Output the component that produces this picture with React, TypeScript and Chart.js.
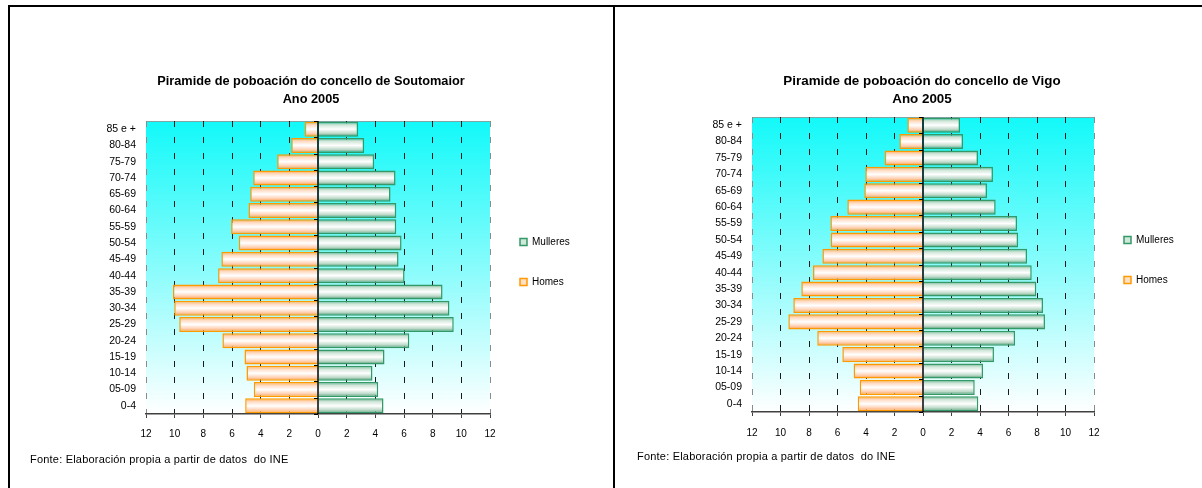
import React, { useEffect, useRef } from 'react';
import { Chart, registerables } from 'chart.js';

Chart.register(...registerables);

// ---------- data ----------
const ageGroups: string[] = [
  '85 e +', '80-84', '75-79', '70-74', '65-69', '60-64', '55-59', '50-54', '45-49',
  '40-44', '35-39', '30-34', '25-29', '20-24', '15-19', '10-14', '05-09', '0-4',
];

const seriesNames: string[] = ['Mulleres', 'Homes'];

const soutomaiorMulleres: number[] = [2.80, 3.22, 3.92, 5.41, 5.06, 5.46, 5.46, 5.83, 5.62, 6.04, 8.69, 9.17, 9.47, 6.37, 4.64, 3.80, 4.20, 4.57];
const soutomaiorHomes: number[] = [0.93, 1.87, 2.85, 4.52, 4.73, 4.85, 6.06, 5.53, 6.74, 6.97, 10.12, 10.03, 9.68, 6.67, 5.13, 4.99, 4.48, 5.08];

const vigoMulleres: number[] = [2.60, 2.81, 3.86, 4.91, 4.49, 5.10, 6.60, 6.67, 7.30, 7.63, 7.95, 8.42, 8.56, 6.46, 4.98, 4.21, 3.63, 3.88];
const vigoHomes: number[] = [1.10, 1.66, 2.69, 4.05, 4.12, 5.31, 6.50, 6.48, 7.06, 7.72, 8.54, 9.10, 9.45, 7.42, 5.66, 4.87, 4.44, 4.58];

const axisMax = 12;
const axisStep = 2;

const titleSoutomaior = 'Piramide de poboación do concello de Soutomaior';
const titleVigo = 'Piramide de poboación do concello de Vigo';
const subtitleYear = 'Ano 2005';
const sourceNote = 'Fonte: Elaboración propia a partir de datos  do INE';

// ---------- styles ----------
const FONT = '"Liberation Sans", Arial, sans-serif';
const BAR_PCT = 0.92;
const GREEN_STOPS: [number, string][] = [[0, '#5FA882'], [0.22, '#D0E6D9'], [0.5, '#FFFFFF'], [0.78, '#BCD9C8'], [1, '#388C62']];
const ORANGE_STOPS: [number, string][] = [[0, '#FFA233'], [0.22, '#FFDAC2'], [0.5, '#FFFFFF'], [0.78, '#FFD0B3'], [1, '#FF9830']];
const LEGEND_W = 80;
const LEGEND_PAD = 30;

type Area = { left: number; right: number; top: number; bottom: number };

const decorPlugin = {
  id: 'pyramidDecor',
  beforeDraw(chart: any) {
    const { ctx, chartArea: a } = chart;
    const g = ctx.createLinearGradient(0, a.top, 0, a.bottom);
    g.addColorStop(0, '#12F9F9');
    g.addColorStop(1, '#FFFFFF');
    ctx.save();
    ctx.fillStyle = g;
    ctx.fillRect(a.left, a.top, a.right - a.left, a.bottom - a.top);
    ctx.strokeStyle = '#7FA5A5';
    ctx.lineWidth = 1;
    ctx.beginPath();
    ctx.moveTo(a.left, Math.round(a.top) + 0.5);
    ctx.lineTo(a.right, Math.round(a.top) + 0.5);
    ctx.stroke();
    ctx.restore();
  },
  afterDatasetsDraw(chart: any) {
    const { ctx, chartArea: a, scales } = chart;
    const x0 = Math.round(scales.x.getPixelForValue(0));
    ctx.save();
    ctx.strokeStyle = '#000';
    ctx.lineWidth = 1.5;
    ctx.beginPath();
    ctx.moveTo(x0, a.top);
    ctx.lineTo(x0, a.bottom);
    ctx.stroke();
    ctx.lineWidth = 1;
    ctx.beginPath();
    const n = ageGroups.length;
    for (let i = 0; i <= n; i++) {
      const yy = Math.round(scales.y.getPixelForValue(i - 0.5)) + 0.5;
      ctx.moveTo(x0 - 4, yy);
      ctx.lineTo(x0, yy);
    }
    ctx.stroke();
    ctx.restore();
  },
};

function Pyramid(props: {
  width: number; height: number; area: Area;
  mulleres: number[]; homes: number[]; legendOffset: number; tickPad: number;
}) {
  const { width, height, area, mulleres, homes, legendOffset, tickPad } = props;
  const ref = useRef<HTMLCanvasElement>(null);

  useEffect(() => {
    const canvas = ref.current;
    if (!canvas) return;

    const barFill = (stops: [number, string][], fallback: string) => (c: any) => {
      const chart = c.chart;
      const y = chart.scales && chart.scales.y;
      if (!y || c.type !== 'data') return fallback;
      const center = y.getPixelForValue(c.dataIndex);
      const half = ((y.height / ageGroups.length) * BAR_PCT) / 2;
      if (!isFinite(center) || !isFinite(half) || half <= 0) return fallback;
      const g = chart.ctx.createLinearGradient(0, center - half, 0, center + half);
      for (const [o, col] of stops) g.addColorStop(o, col);
      return g;
    };

    const legendFill = ['#D0E8DA', '#FFE0C4'];
    const legendStroke = ['#339966', '#FF9900'];

    const chart = new Chart(canvas, {
      type: 'bar',
      data: {
        labels: ageGroups,
        datasets: [
          {
            label: seriesNames[0],
            data: mulleres,
            backgroundColor: barFill(GREEN_STOPS, '#D0E8DA'),
            borderColor: '#339966',
            borderWidth: 1.5,
            barPercentage: BAR_PCT,
            categoryPercentage: 1,
          },
          {
            label: seriesNames[1],
            data: homes.map((v) => -v),
            backgroundColor: barFill(ORANGE_STOPS, '#FFE0C4'),
            borderColor: '#FF9900',
            borderWidth: 1.5,
            barPercentage: BAR_PCT,
            categoryPercentage: 1,
          },
        ],
      },
      options: {
        indexAxis: 'y',
        responsive: false,
        maintainAspectRatio: false,
        animation: false,
        devicePixelRatio: 1,
        events: [],
        layout: { padding: { top: area.top, left: 0, bottom: 0, right: width - area.right - LEGEND_W } },
        scales: {
          x: {
            type: 'linear',
            min: -axisMax,
            max: axisMax,
            stacked: true,
            afterFit: (s: any) => { s.height = height - area.bottom; },
            ticks: {
              stepSize: axisStep,
              padding: tickPad,
              color: '#000',
              font: { family: FONT, size: 10 },
              callback: (v: any) => String(Math.abs(Number(v))),
            },
            grid: {
              drawOnChartArea: true,
              drawTicks: true,
              tickLength: 4,
              tickColor: '#404040',
              lineWidth: 1,
              color: (c: any) => {
                const v = c.tick ? c.tick.value : 1;
                if (v === 0) return 'rgba(0,0,0,0)';
                if (Math.abs(v) === axisMax) return '#8A8A8A';
                return '#1A1A1A';
              },
            },
            border: {
              display: true,
              color: '#404040',
              width: 1.5,
              dash: (c: any) => (c.tick && c.tick.value === 0 ? [] : [6, 10]),
            },
          },
          y: {
            type: 'category',
            stacked: true,
            afterFit: (s: any) => { s.width = area.left; },
            grid: { display: false, drawTicks: false },
            border: { display: false },
            ticks: {
              autoSkip: false,
              padding: 10,
              color: '#000',
              font: { family: FONT, size: 10.5 },
            },
          },
        },
        plugins: {
          tooltip: { enabled: false },
          title: { display: false },
          legend: {
            position: 'right',
            align: 'start',
            fullSize: false,
            maxWidth: LEGEND_W,
            title: { display: true, text: '', padding: { top: legendOffset, bottom: 0 }, font: { family: FONT, size: 10 } },
            labels: {
              boxWidth: 7,
              boxHeight: 7,
              padding: LEGEND_PAD,
              color: '#000',
              font: { family: FONT, size: 10 },
              generateLabels: (ch: any) =>
                ch.data.datasets.map((ds: any, i: number) => ({
                  text: ds.label,
                  fillStyle: legendFill[i],
                  strokeStyle: legendStroke[i],
                  lineWidth: 1.5,
                  fontColor: '#000',
                  hidden: false,
                  datasetIndex: i,
                })),
            },
          },
        },
      },
      plugins: [decorPlugin],
    } as any);

    return () => chart.destroy();
  }, [width, height, area, mulleres, homes, legendOffset, tickPad]);

  return <canvas ref={ref} width={width} height={height} style={{ display: 'block', width, height }} />;
}

const leftArea: Area = { left: 136, right: 480, top: 114, bottom: 407 };
const rightArea: Area = { left: 137, right: 479, top: 110, bottom: 405 };

const abs = (l: number, t: number, w: number, h: number): React.CSSProperties => ({
  position: 'absolute', left: l, top: t, width: w, height: h,
});

export default function App() {
  const titleStyle: React.CSSProperties = {
    fontFamily: FONT, fontWeight: 'bold', lineHeight: '18px',
    textAlign: 'center', color: '#000', whiteSpace: 'nowrap',
  };
  const noteStyle: React.CSSProperties = {
    fontFamily: FONT, fontSize: 11, letterSpacing: 0.2, lineHeight: '13px', color: '#000', whiteSpace: 'pre',
  };
  return (
    <div style={{ position: 'absolute', left: 0, top: 0, width: 1202, height: 488, overflow: 'hidden', background: '#fff' }}>
      <div style={{ ...abs(8, 5, 1194, 2), background: '#000' }} />
      <div style={{ ...abs(8, 5, 2, 483), background: '#000' }} />
      <div style={{ ...abs(613, 5, 2, 483), background: '#000' }} />

      <div style={abs(10, 7, 603, 481)}>
        <Pyramid width={603} height={481} area={leftArea} mulleres={soutomaiorMulleres} homes={soutomaiorHomes} legendOffset={74} tickPad={10} />
      </div>
      <div style={{ ...abs(111, 72, 400, 36), ...titleStyle, fontSize: 12.75 }}>
        <div>{titleSoutomaior}</div>
        <div>{subtitleYear}</div>
      </div>
      <div style={{ ...abs(30, 453, 400, 13), ...noteStyle }}>{sourceNote}</div>

      <div style={abs(615, 7, 587, 481)}>
        <Pyramid width={587} height={481} area={rightArea} mulleres={vigoMulleres} homes={vigoHomes} legendOffset={76} tickPad={11} />
      </div>
      <div style={{ ...abs(722, 72, 400, 36), ...titleStyle, fontSize: 13.4 }}>
        <div>{titleVigo}</div>
        <div>{subtitleYear}</div>
      </div>
      <div style={{ ...abs(637, 450, 400, 13), ...noteStyle }}>{sourceNote}</div>
    </div>
  );
}
